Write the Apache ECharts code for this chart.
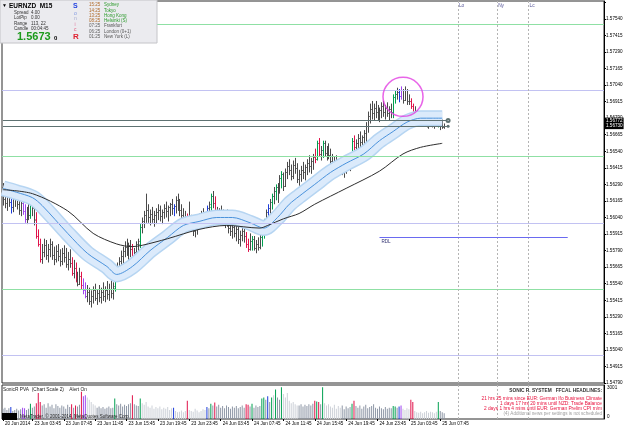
<!DOCTYPE html>
<html>
<head>
<meta charset="utf-8">
<script src="https://cdn.jsdelivr.net/npm/echarts@6/dist/echarts.min.js"></script>
<style>
  html, body { margin: 0; padding: 0; background: #fff; }
  #chart { width: 625px; height: 429px; }
</style>
</head>
<body>
<div id="chart"></div>
<script>
// EURNZD M15 bars (index = bar number from the left)
const barOpen = [
  1.5627,1.5618,1.5615,1.5620,1.5616,1.5612,1.5618,1.5621,1.5614,1.5610,
  1.5615,1.5609,1.5603,1.5608,1.5606,1.5616,1.5611,1.5603,1.5590,1.5584,
  1.5573,1.5578,1.5583,1.5576,1.5580,1.5584,1.5576,1.5573,1.5579,1.5575,
  1.5571,1.5577,1.5574,1.5569,1.5573,1.5570,1.5562,1.5566,1.5557,1.5554,
  1.5560,1.5553,1.5549,1.5545,1.5548,1.5541,1.5545,1.5549,1.5543,1.5547,
  1.5544,1.5548,1.5545,1.5549,1.5546,1.5550,1.5547,1.5551,1.5561,1.5566,
  1.5571,1.5575,1.5579,1.5582,1.5578,1.5583,1.5580,1.5574,1.5578,1.5584,
  1.5584,1.5597,1.5601,1.5606,1.5610,1.5604,1.5607,1.5603,1.5606,1.5608,
  1.5610,1.5605,1.5608,1.5611,1.5609,1.5612,1.5614,1.5611,1.5613,1.5617,
  1.5614,1.5610,1.5606,1.5603,1.5601,1.5604,1.5600,1.5597,1.5594,1.5598,
  1.5601,1.5604,1.5606,1.5603,1.5607,1.5611,1.5612,1.5620,1.5615,1.5607,
  1.5604,1.5608,1.5605,1.5602,1.5606,1.5600,1.5596,1.5594,1.5597,1.5592,
  1.5595,1.5588,1.5591,1.5594,1.5590,1.5584,1.5580,1.5586,1.5588,1.5581,
  1.5584,1.5582,1.5589,1.5594,1.5601,1.5608,1.5611,1.5616,1.5620,1.5624,
  1.5627,1.5625,1.5634,1.5637,1.5628,1.5638,1.5643,1.5640,1.5635,1.5644,
  1.5641,1.5633,1.5637,1.5640,1.5638,1.5642,1.5645,1.5643,1.5647,1.5650,
  1.5648,1.5660,1.5652,1.5655,1.5660,1.5653,1.5656,1.5651,1.5647,1.5644,
  1.5647,1.5642,1.5645,1.5641,1.5639,1.5642,1.5646,1.5649,1.5647,1.5662,
  1.5657,1.5660,1.5664,1.5661,1.5665,1.5668,1.5673,1.5681,1.5686,1.5683,
  1.5687,1.5684,1.5681,1.5685,1.5688,1.5684,1.5687,1.5683,1.5686,1.5684,
  1.5695,1.5697,1.5699,1.5696,1.5700,1.5693,1.5700,1.5692,1.5692,1.5688,
  1.5684,1.5682,1.5680,1.5677,1.5679,1.5676,1.5678,1.5674,1.5676,1.5679,
  1.5675,1.5677,1.5680,1.5674,1.5676,1.5672
];
const barHigh = [
  1.5630,1.5628,1.5626,1.5627,1.5624,1.5622,1.5625,1.5626,1.5621,1.5620,
  1.5619,1.5614,1.5612,1.5616,1.5618,1.5619,1.5617,1.5608,1.5595,1.5588,
  1.5584,1.5588,1.5587,1.5584,1.5588,1.5586,1.5582,1.5583,1.5584,1.5580,
  1.5581,1.5583,1.5581,1.5578,1.5580,1.5574,1.5572,1.5570,1.5563,1.5566,
  1.5563,1.5558,1.5555,1.5553,1.5551,1.5549,1.5552,1.5554,1.5550,1.5553,
  1.5551,1.5555,1.5552,1.5556,1.5554,1.5557,1.5555,1.5562,1.5570,1.5574,
  1.5579,1.5582,1.5586,1.5588,1.5585,1.5587,1.5584,1.5581,1.5586,1.5588,
  1.5599,1.5604,1.5609,1.5622,1.5614,1.5610,1.5612,1.5609,1.5611,1.5614,
  1.5613,1.5610,1.5614,1.5616,1.5613,1.5615,1.5618,1.5614,1.5620,1.5622,
  1.5618,1.5614,1.5611,1.5609,1.5607,1.5616,1.5606,1.5603,1.5601,1.5604,
  1.5607,1.5609,1.5611,1.5608,1.5613,1.5616,1.5622,1.5624,1.5620,1.5612,
  1.5611,1.5613,1.5610,1.5608,1.5610,1.5604,1.5601,1.5600,1.5601,1.5598,
  1.5599,1.5594,1.5597,1.5598,1.5593,1.5588,1.5592,1.5590,1.5590,1.5587,
  1.5589,1.5592,1.5596,1.5603,1.5610,1.5614,1.5618,1.5622,1.5627,1.5629,
  1.5630,1.5636,1.5639,1.5638,1.5641,1.5646,1.5648,1.5644,1.5647,1.5649,
  1.5645,1.5640,1.5643,1.5646,1.5644,1.5648,1.5651,1.5649,1.5652,1.5656,
  1.5662,1.5664,1.5658,1.5662,1.5662,1.5658,1.5660,1.5656,1.5652,1.5650,
  1.5651,1.5648,1.5649,1.5646,1.5644,1.5648,1.5652,1.5651,1.5664,1.5666,
  1.5663,1.5667,1.5669,1.5666,1.5670,1.5676,1.5684,1.5690,1.5692,1.5690,
  1.5692,1.5689,1.5687,1.5691,1.5692,1.5689,1.5691,1.5688,1.5690,1.5697,
  1.5700,1.5702,1.5701,1.5703,1.5701,1.5703,1.5701,1.5697,1.5694,1.5690,
  1.5688,1.5685,1.5683,1.5681,1.5682,1.5681,1.5680,1.5678,1.5682,1.5680,
  1.5678,1.5682,1.5681,1.5677,1.5678,1.5675
];
const barLow = [
  1.5613,1.5611,1.5609,1.5612,1.5607,1.5608,1.5612,1.5610,1.5606,1.5605,
  1.5606,1.5600,1.5599,1.5602,1.5603,1.5605,1.5598,1.5588,1.5582,1.5570,
  1.5569,1.5574,1.5572,1.5570,1.5574,1.5572,1.5568,1.5570,1.5571,1.5567,
  1.5568,1.5570,1.5566,1.5564,1.5566,1.5560,1.5558,1.5555,1.5552,1.5553,
  1.5550,1.5546,1.5543,1.5540,1.5538,1.5536,1.5539,1.5541,1.5538,1.5540,
  1.5539,1.5541,1.5540,1.5542,1.5541,1.5543,1.5542,1.5548,1.5557,1.5560,
  1.5566,1.5568,1.5574,1.5575,1.5572,1.5574,1.5570,1.5568,1.5572,1.5577,
  1.5581,1.5592,1.5596,1.5600,1.5600,1.5598,1.5600,1.5597,1.5599,1.5602,
  1.5601,1.5599,1.5603,1.5604,1.5601,1.5605,1.5606,1.5605,1.5607,1.5609,
  1.5605,1.5603,1.5600,1.5599,1.5596,1.5597,1.5593,1.5590,1.5589,1.5591,
  1.5595,1.5597,1.5599,1.5597,1.5601,1.5604,1.5608,1.5611,1.5606,1.5600,
  1.5599,1.5601,1.5598,1.5596,1.5597,1.5592,1.5590,1.5588,1.5589,1.5586,
  1.5584,1.5582,1.5586,1.5585,1.5581,1.5578,1.5579,1.5579,1.5579,1.5577,
  1.5579,1.5580,1.5582,1.5588,1.5598,1.5603,1.5607,1.5610,1.5614,1.5617,
  1.5615,1.5622,1.5626,1.5624,1.5627,1.5633,1.5636,1.5632,1.5633,1.5637,
  1.5630,1.5628,1.5631,1.5633,1.5632,1.5636,1.5638,1.5637,1.5640,1.5645,
  1.5647,1.5650,1.5647,1.5649,1.5650,1.5647,1.5648,1.5644,1.5640,1.5639,
  1.5640,1.5637,1.5638,1.5636,1.5634,1.5637,1.5640,1.5639,1.5645,1.5652,
  1.5650,1.5654,1.5656,1.5653,1.5657,1.5661,1.5668,1.5675,1.5678,1.5677,
  1.5679,1.5677,1.5676,1.5679,1.5680,1.5678,1.5680,1.5677,1.5679,1.5679,
  1.5690,1.5693,1.5691,1.5693,1.5690,1.5692,1.5689,1.5689,1.5686,1.5683,
  1.5680,1.5678,1.5675,1.5674,1.5675,1.5673,1.5672,1.5671,1.5673,1.5672,
  1.5671,1.5673,1.5672,1.5670,1.5671,1.5671
];
const barClose = [
  1.5618,1.5615,1.5620,1.5616,1.5612,1.5618,1.5621,1.5614,1.5610,1.5615,
  1.5609,1.5603,1.5608,1.5606,1.5616,1.5611,1.5602,1.5590,1.5584,1.5573,
  1.5578,1.5583,1.5576,1.5580,1.5584,1.5576,1.5573,1.5579,1.5575,1.5571,
  1.5577,1.5574,1.5569,1.5573,1.5570,1.5562,1.5566,1.5557,1.5554,1.5560,
  1.5553,1.5549,1.5545,1.5548,1.5541,1.5545,1.5549,1.5543,1.5547,1.5544,
  1.5548,1.5545,1.5549,1.5546,1.5550,1.5547,1.5552,1.5561,1.5566,1.5571,
  1.5575,1.5579,1.5582,1.5578,1.5583,1.5580,1.5574,1.5578,1.5584,1.5586,
  1.5597,1.5601,1.5606,1.5610,1.5604,1.5607,1.5603,1.5606,1.5608,1.5610,
  1.5605,1.5608,1.5611,1.5609,1.5612,1.5614,1.5611,1.5613,1.5617,1.5614,
  1.5610,1.5606,1.5603,1.5601,1.5604,1.5600,1.5597,1.5594,1.5598,1.5601,
  1.5604,1.5606,1.5603,1.5607,1.5611,1.5614,1.5620,1.5615,1.5607,1.5604,
  1.5608,1.5605,1.5602,1.5606,1.5600,1.5596,1.5594,1.5597,1.5592,1.5595,
  1.5588,1.5591,1.5594,1.5590,1.5584,1.5580,1.5586,1.5588,1.5581,1.5584,
  1.5582,1.5589,1.5594,1.5601,1.5608,1.5611,1.5616,1.5620,1.5624,1.5627,
  1.5625,1.5634,1.5637,1.5628,1.5638,1.5643,1.5640,1.5635,1.5644,1.5641,
  1.5633,1.5637,1.5640,1.5638,1.5642,1.5645,1.5643,1.5647,1.5650,1.5648,
  1.5660,1.5652,1.5655,1.5660,1.5653,1.5656,1.5651,1.5647,1.5644,1.5647,
  1.5642,1.5645,1.5641,1.5639,1.5642,1.5646,1.5649,1.5647,1.5662,1.5657,
  1.5660,1.5664,1.5661,1.5665,1.5668,1.5673,1.5681,1.5686,1.5683,1.5687,
  1.5684,1.5681,1.5685,1.5688,1.5684,1.5687,1.5683,1.5686,1.5684,1.5695,
  1.5697,1.5699,1.5696,1.5700,1.5693,1.5700,1.5692,1.5692,1.5688,1.5684,
  1.5682,1.5680,1.5677,1.5679,1.5676,1.5678,1.5674,1.5676,1.5679,1.5675,
  1.5677,1.5680,1.5674,1.5676,1.5672,1.5673
];

// SonicR PVA volume (indicator window, scale 0..3001)
const pvaVolume = [
  900,1000,800,950,1050,700,800,900,750,850,
  1000,950,800,900,1350,1000,1100,1400,2300,1500,
  1200,1300,1000,1400,1100,1250,950,1300,1150,1000,
  1200,1100,900,1250,1050,1300,1000,1200,1100,1250,
  2400,2000,2100,1900,1700,1500,1300,1200,1000,1100,
  950,1050,900,1000,1100,950,1000,1800,1300,1200,
  1350,1100,1250,1150,1300,1400,2100,1300,1200,1150,
  1800,1400,1250,1500,1100,1000,1200,900,1050,950,
  1100,850,1000,900,1050,800,950,1000,700,600,
  650,750,600,700,1600,800,700,650,900,750,
  600,700,850,800,1050,950,1350,1200,1450,1100,
  1250,1000,1150,950,1200,1050,900,1100,1000,1150,
  950,1050,1200,1000,1300,1250,1100,1350,1000,1200,
  1050,1150,1800,1900,1700,2000,1500,1900,2100,2600,
  1900,1700,2800,2200,1900,2300,1600,1400,1500,1300,
  1200,1200,1300,1100,1250,1150,1300,1200,1350,1600,
  1550,1500,1300,2800,1400,1200,1300,1100,1000,1250,
  900,1150,1000,1200,850,1100,950,1050,1350,1600,
  1150,1000,1200,900,1100,1250,950,1050,1150,1300,
  1000,900,1100,950,850,1050,900,1000,950,1150,
  1100,1000,1100,1200,900,800,950,850,1700,1500,
  700,600,550,650,500,600,700,550,650,600,
  500,650,1500,700,600,500
];

// PVA colour classes (bar numbers)
const greenBars = [14, 57, 70, 106, 127, 132, 133, 137, 139, 142, 160, 163, 178, 199, 200, 222];
const redBars = [17, 18, 19, 35, 37, 40, 66, 94, 108, 124, 125, 159, 161, 179, 208, 209];
const blueBars = [4, 87, 104, 135, 202];
const purpleBars = [10, 11, 41, 42, 203];
const lightVolRanges = [[43, 47], [71, 86], [88, 93], [95, 103], [138, 138], [143, 150], [164, 172], [204, 207], [210, 221]];

// moving averages, knots: [bar, price]
const dragonMA = [
  [0,1.5626],[7,1.5623],[15,1.5619],[20,1.5613],[33,1.5592],[43,1.5577],[53,1.5567],[58,1.5561],
  [66,1.5567],[75,1.5579],[84,1.5589],[92,1.5598],[100,1.5601],[109,1.5604],[117,1.5604],[126,1.5600],
  [133,1.5596],[140,1.5604],[146,1.5614],[151,1.5620],[159,1.5629],[167,1.5638],[175,1.5645],[184,1.5652],
  [192,1.5662],[199,1.5669],[206,1.5676],[213,1.5679],[219,1.5679],[224,1.5679]
];
const slowMA = [
  [0,1.5625],[15,1.5622],[33,1.5609],[46,1.5592],[58,1.5584],[66,1.5582],[71,1.5583],[84,1.5588],
  [100,1.5595],[114,1.5598],[131,1.5596],[135,1.5598],[143,1.5603],[151,1.5607],[159,1.5614],
  [175,1.5626],[192,1.5639],[204,1.5652],[213,1.5657],[224,1.5660]
];

// levels and marks
const greenLevels = [1.5750, 1.5650, 1.5550];
const lavenderLevels = [1.5700, 1.5600, 1.5500];
const bidAskLevels = [1.56772, 1.56730];
const rdlLevel = 1.5589;
const rdlBars = [192, 288];
const sessionBars = [232, 252, 268];
const sessionNames = ['Lo', 'Ny', 'Lc'];
const circleMark = [204, 1.56951];

// axes
const priceMin = 1.54790, priceMax = 1.57675, priceStep = 0.00125;
const slotCount = 307;
const timeLabelBars = [0, 15, 31, 47, 63, 79, 95, 111, 127, 143, 159, 175, 191, 207, 223];
const timeLabels = ['20 Jun 2014', '23 Jun 03:45', '23 Jun 07:45', '23 Jun 11:45', '23 Jun 15:45',
  '23 Jun 19:45', '23 Jun 23:45', '24 Jun 03:45', '24 Jun 07:45', '24 Jun 11:45', '24 Jun 15:45',
  '24 Jun 19:45', '24 Jun 23:45', '25 Jun 03:45', '25 Jun 07:45'];

// info panel texts
const sessionTimes = ['15:25', '14:25', '13:25', '08:25', '07:25', '06:25', '01:25'];
const sessionCities = ['Sydney', 'Tokyo', 'Hong Kong', 'Helsinki (S)', 'Frankfurt', 'London (0+1)', 'New York (L)'];
const infoKeys = ['Spread', 'LotPip', 'Range', 'Candle'];
const infoVals = ['4.00', '0.00', '113, 22', '00:04:45'];
const headlines = [
  '21 hrs 25 mins since EUR: German Ifo Business Climate',
  '1 days 17 hrs 20 mins until NZD: Trade Balance',
  '2 days 1 hrs 4 mins until EUR: German Prelim CPI m/m'
];

const FONT = 'Liberation Sans, Arial, sans-serif';
const slots = Array.from({ length: slotCount }, (_, i) => String(i));

function pvaClass(i) {
  if (greenBars.includes(i)) return '#00a050';
  if (redBars.includes(i)) return '#e0124a';
  if (blueBars.includes(i)) return '#1c3cdc';
  if (purpleBars.includes(i)) return '#a046f0';
  return null;
}
function priceColor(i) {
  return pvaClass(i) || '#4a4a4a';
}
function volColor(i) {
  const c = pvaClass(i);
  if (c) return c;
  for (const r of lightVolRanges) if (i >= r[0] && i <= r[1]) return '#cdd1d8';
  return '#8e97a6';
}

function renderBar(params, api) {
  const i = api.value(0);
  const hi = api.coord([i, api.value(2)]);
  const lo = api.coord([i, api.value(3)]);
  const op = api.coord([i, api.value(1)]);
  const cl = api.coord([i, api.value(4)]);
  const x = Math.round(hi[0]) + 0.5;
  const yo = Math.round(op[1]) + 0.5;
  const yc = Math.round(cl[1]) + 0.5;
  const style = { stroke: priceColor(i), lineWidth: 1 };
  return {
    type: 'group',
    children: [
      { type: 'line', shape: { x1: x, y1: hi[1], x2: x, y2: lo[1] }, style: style },
      { type: 'line', shape: { x1: x - 1, y1: yo, x2: x, y2: yo }, style: style },
      { type: 'line', shape: { x1: x, y1: yc, x2: x + 1, y2: yc }, style: style }
    ]
  };
}

const chart = echarts.init(document.getElementById('chart'));

const infoGraphics = [
  { type: 'rect', shape: { x: 0, y: 0, width: 157, height: 43 }, style: { fill: '#ebebef', stroke: '#c4c4c8', lineWidth: 1 } },
  { type: 'text', x: 2, y: 6, style: { text: '▼', fill: '#000', verticalAlign: 'middle', font: '5px ' + FONT } },
  { type: 'text', x: 9, y: 6, style: { text: 'EURNZD  M15', fill: '#000', verticalAlign: 'middle', font: 'bold 6.5px ' + FONT } },
  { type: 'text', x: 17, y: 37, style: { text: '1.5673', fill: '#1c9a1c', verticalAlign: 'middle', font: 'bold 11px ' + FONT } },
  { type: 'text', x: 54, y: 38, style: { text: '0', fill: '#000', verticalAlign: 'middle', font: 'bold 6px ' + FONT } },
  { type: 'text', x: 73, y: 6, style: { text: 'S', fill: '#2040e0', verticalAlign: 'middle', font: 'bold 7px ' + FONT } },
  { type: 'text', x: 74, y: 14, style: { text: 'o', fill: '#7c94e0', verticalAlign: 'middle', font: '5px ' + FONT } },
  { type: 'text', x: 74, y: 19, style: { text: 'n', fill: '#a4aad0', verticalAlign: 'middle', font: '5px ' + FONT } },
  { type: 'text', x: 74.5, y: 24.5, style: { text: 'i', fill: '#e07aa0', verticalAlign: 'middle', font: '5px ' + FONT } },
  { type: 'text', x: 74, y: 30, style: { text: 'c', fill: '#e05a7a', verticalAlign: 'middle', font: '5px ' + FONT } },
  { type: 'text', x: 73, y: 37, style: { text: 'R', fill: '#e02030', verticalAlign: 'middle', font: 'bold 8px ' + FONT } }
];
infoKeys.forEach((k, r) => {
  const y = 13 + r * 5.2;
  infoGraphics.push({ type: 'text', x: 14, y: y, style: { text: k, fill: '#333', verticalAlign: 'middle', font: '4.5px ' + FONT } });
  infoGraphics.push({ type: 'text', x: 31, y: y, style: { text: infoVals[r], fill: '#333', verticalAlign: 'middle', font: '4.5px ' + FONT } });
});
sessionTimes.forEach((t, r) => {
  const y = 5 + r * 5.3;
  infoGraphics.push({ type: 'text', x: 89, y: y, style: { text: t, fill: r < 4 ? '#b06a28' : '#606060', verticalAlign: 'middle', font: '4.5px ' + FONT } });
  infoGraphics.push({ type: 'text', x: 104, y: y, style: { text: sessionCities[r], fill: r < 4 ? '#2a9a2a' : '#555', verticalAlign: 'middle', font: '4.5px ' + FONT } });
});

const panelGraphics = [
  { type: 'text', x: 3, y: 389.5, style: { text: 'SonicR PVA  (Chart Scale 2)    Alert On', fill: '#222', verticalAlign: 'middle', font: '4.8px ' + FONT } },
  { type: 'text', x: 602, y: 391, style: { text: 'SONIC R. SYSTEM   FFCAL HEADLINES:', fill: '#333', align: 'right', verticalAlign: 'middle', font: 'bold 4.8px ' + FONT } },
  { type: 'text', x: 602, y: 414, style: { text: '(4) Additional news per settings is not scheduled', fill: '#a0a0a0', align: 'right', verticalAlign: 'middle', font: '4.6px ' + FONT } },
  { type: 'rect', shape: { x: 2, y: 413, width: 15, height: 7 }, style: { fill: '#000' } },
  { type: 'text', x: 20, y: 416.5, style: { text: 'MetaTrader, © 2001-2014, MetaQuotes Software Corp.', fill: '#222', verticalAlign: 'middle', font: '4.5px ' + FONT } }
];
headlines.forEach((h, r) => {
  panelGraphics.push({ type: 'text', x: 602, y: 398.5 + r * 5, style: { text: h, fill: '#e8103c', align: 'right', verticalAlign: 'middle', font: '4.8px ' + FONT } });
});

const labelAt = idx => timeLabelBars.includes(idx);
const levelLines = greenLevels.map(v => ({ yAxis: v, lineStyle: { color: '#8fe0a4', width: 1, type: 'solid' } }))
  .concat(lavenderLevels.map(v => ({ yAxis: v, lineStyle: { color: '#c2c2f2', width: 1, type: 'solid' } })));

chart.setOption({
  animation: false,
  backgroundColor: '#fff',
  textStyle: { fontFamily: FONT },
  grid: [
    { left: 2, right: 21, top: 1, height: 382, show: true, borderColor: '#2a2a2a', borderWidth: 1, backgroundColor: '#fff', outerBoundsMode: 'none' },
    { left: 2, right: 21, top: 385, height: 34, show: true, borderColor: '#2a2a2a', borderWidth: 1, backgroundColor: '#fff', outerBoundsMode: 'none' }
  ],
  xAxis: [
    { type: 'category', gridIndex: 0, data: slots, boundaryGap: true,
      axisLine: { show: false }, axisTick: { show: false }, axisLabel: { show: false }, splitLine: { show: false } },
    { type: 'category', gridIndex: 1, data: slots, boundaryGap: true,
      axisLine: { show: false },
      axisTick: { show: true, interval: labelAt, alignWithLabel: true, length: 2, lineStyle: { color: '#000' } },
      axisLabel: { interval: labelAt, align: 'left', margin: 2, padding: [0, 0, 0, 2], fontSize: 4.6, color: '#000',
        formatter: v => timeLabels[timeLabelBars.indexOf(Number(v))] || '' },
      splitLine: { show: false } }
  ],
  yAxis: [
    { type: 'value', gridIndex: 0, position: 'right', min: priceMin, max: priceMax, interval: priceStep,
      axisLine: { show: true, lineStyle: { color: '#000' } },
      axisTick: { show: true, length: 2, lineStyle: { color: '#000' } },
      axisLabel: { margin: 2, fontSize: 4.6, color: '#000', showMaxLabel: false,
        formatter: v => (v > priceMax - 0.0002 ? '' : v.toFixed(5)) },
      splitLine: { show: false } },
    { type: 'value', gridIndex: 1, position: 'right', min: 0, max: 3001, interval: 3001,
      axisLine: { show: true, lineStyle: { color: '#000' } },
      axisTick: { show: false },
      axisLabel: { margin: 3, fontSize: 4.6, color: '#000',
        formatter: v => (v > 0 ? '{t|' + Math.round(v) + '}' : '{b|0}'),
        rich: { t: { fontSize: 4.6, padding: [6, 0, 0, 0] }, b: { fontSize: 4.6, padding: [0, 0, 4, 0] } } },
      splitLine: { show: false } }
  ],
  series: [
    { // level lines
      type: 'line', xAxisIndex: 0, yAxisIndex: 0, data: slowMA, symbol: 'none', silent: true,
      lineStyle: { width: 0, opacity: 0 },
      markLine: { silent: true, precision: 6, symbol: ['none', 'none'], label: { show: false }, data: levelLines }
    },
    { // dragon band edge
      type: 'line', xAxisIndex: 0, yAxisIndex: 0, data: dragonMA, smooth: 0.3, symbol: 'none', silent: true,
      lineStyle: { color: '#b6d5f2', width: 16 }
    },
    { // dragon band fill
      type: 'line', xAxisIndex: 0, yAxisIndex: 0, data: dragonMA, smooth: 0.3, symbol: 'none', silent: true,
      lineStyle: { color: '#dbeafb', width: 13 }
    },
    { // dragon centre
      type: 'line', xAxisIndex: 0, yAxisIndex: 0, data: dragonMA, smooth: 0.3, symbol: 'none', silent: true,
      lineStyle: { color: '#4a92dc', width: 1 }
    },
    { // slow MA
      type: 'line', xAxisIndex: 0, yAxisIndex: 0, data: slowMA, smooth: 0.3, symbol: 'none', silent: true,
      lineStyle: { color: '#2e2e2e', width: 1 },
      markLine: {
        silent: true, precision: 6, symbol: ['none', 'none'], label: { show: false },
        data: sessionBars.map(b => ({ xAxis: String(b), lineStyle: { color: '#b4b4b4', type: [2, 2], width: 1 } }))
          .concat([
            [{ coord: [rdlBars[0], rdlLevel], lineStyle: { color: '#6a6af0', width: 1, type: 'solid' },
               label: { show: true, position: 'insideStartBottom', formatter: 'RDL', fontSize: 4.6, color: '#303070', distance: 2 } },
             { coord: [rdlBars[1], rdlLevel] }],
            [{ coord: [0, bidAskLevels[0]], lineStyle: { color: '#5e7272', width: 1, type: 'solid' } },
             { coord: [227, bidAskLevels[0]], symbol: 'emptyCircle', symbolSize: 3 }],
            [{ coord: [0, bidAskLevels[1]], lineStyle: { color: '#5e7272', width: 1, type: 'solid' } },
             { coord: [227, bidAskLevels[1]], symbol: 'circle', symbolSize: 3 }]
          ])
      }
    },
    { // OHLC bars
      type: 'custom', xAxisIndex: 0, yAxisIndex: 0, silent: true, clip: true,
      renderItem: renderBar,
      encode: { x: 0, y: [1, 2, 3, 4] },
      data: barOpen.map((o, i) => [i, o, barHigh[i], barLow[i], barClose[i]])
    },
    { // annotation circle
      type: 'scatter', xAxisIndex: 0, yAxisIndex: 0, silent: true, z: 5,
      data: [circleMark], symbol: 'circle', symbolSize: [40, 39],
      itemStyle: { color: 'rgba(0,0,0,0)', borderColor: '#e23ee2', borderWidth: 1.5 }
    },
    { // session labels
      type: 'scatter', xAxisIndex: 0, yAxisIndex: 0, silent: true, symbolSize: 0,
      data: sessionBars.map(b => [b, 1.57642]),
      label: { show: true, position: 'right', distance: 1, fontSize: 4.8, color: '#2a2a80',
        formatter: p => sessionNames[p.dataIndex] }
    },
    { // bid / ask price tags on the axis
      type: 'line', xAxisIndex: 0, yAxisIndex: 0, data: [], silent: true, z: 10,
      markLine: {
        silent: true, precision: 6, symbol: ['none', 'none'],
        lineStyle: { color: 'rgba(0,0,0,0)', width: 0 },
        label: { show: true, position: 'end', distance: 1, color: '#fff', backgroundColor: '#000', padding: [1, 1, 0, 1],
          fontSize: 4.6, formatter: p => Number(p.value).toFixed(5) },
        data: bidAskLevels.map(v => ({ yAxis: v }))
      }
    },
    { // PVA volume
      type: 'bar', xAxisIndex: 1, yAxisIndex: 1, barWidth: 1, silent: true,
      data: pvaVolume.map((v, i) => ({ value: v, itemStyle: { color: volColor(i) } })),
      markLine: {
        silent: true, symbol: ['none', 'none'], label: { show: false },
        data: sessionBars.map(b => ({ xAxis: String(b), lineStyle: { color: '#b4b4b4', type: [2, 2], width: 1 } }))
      }
    }
  ],
  graphic: infoGraphics.concat(panelGraphics).map(g => Object.assign({ z: 100, silent: true }, g))
});
</script>
</body>
</html>
